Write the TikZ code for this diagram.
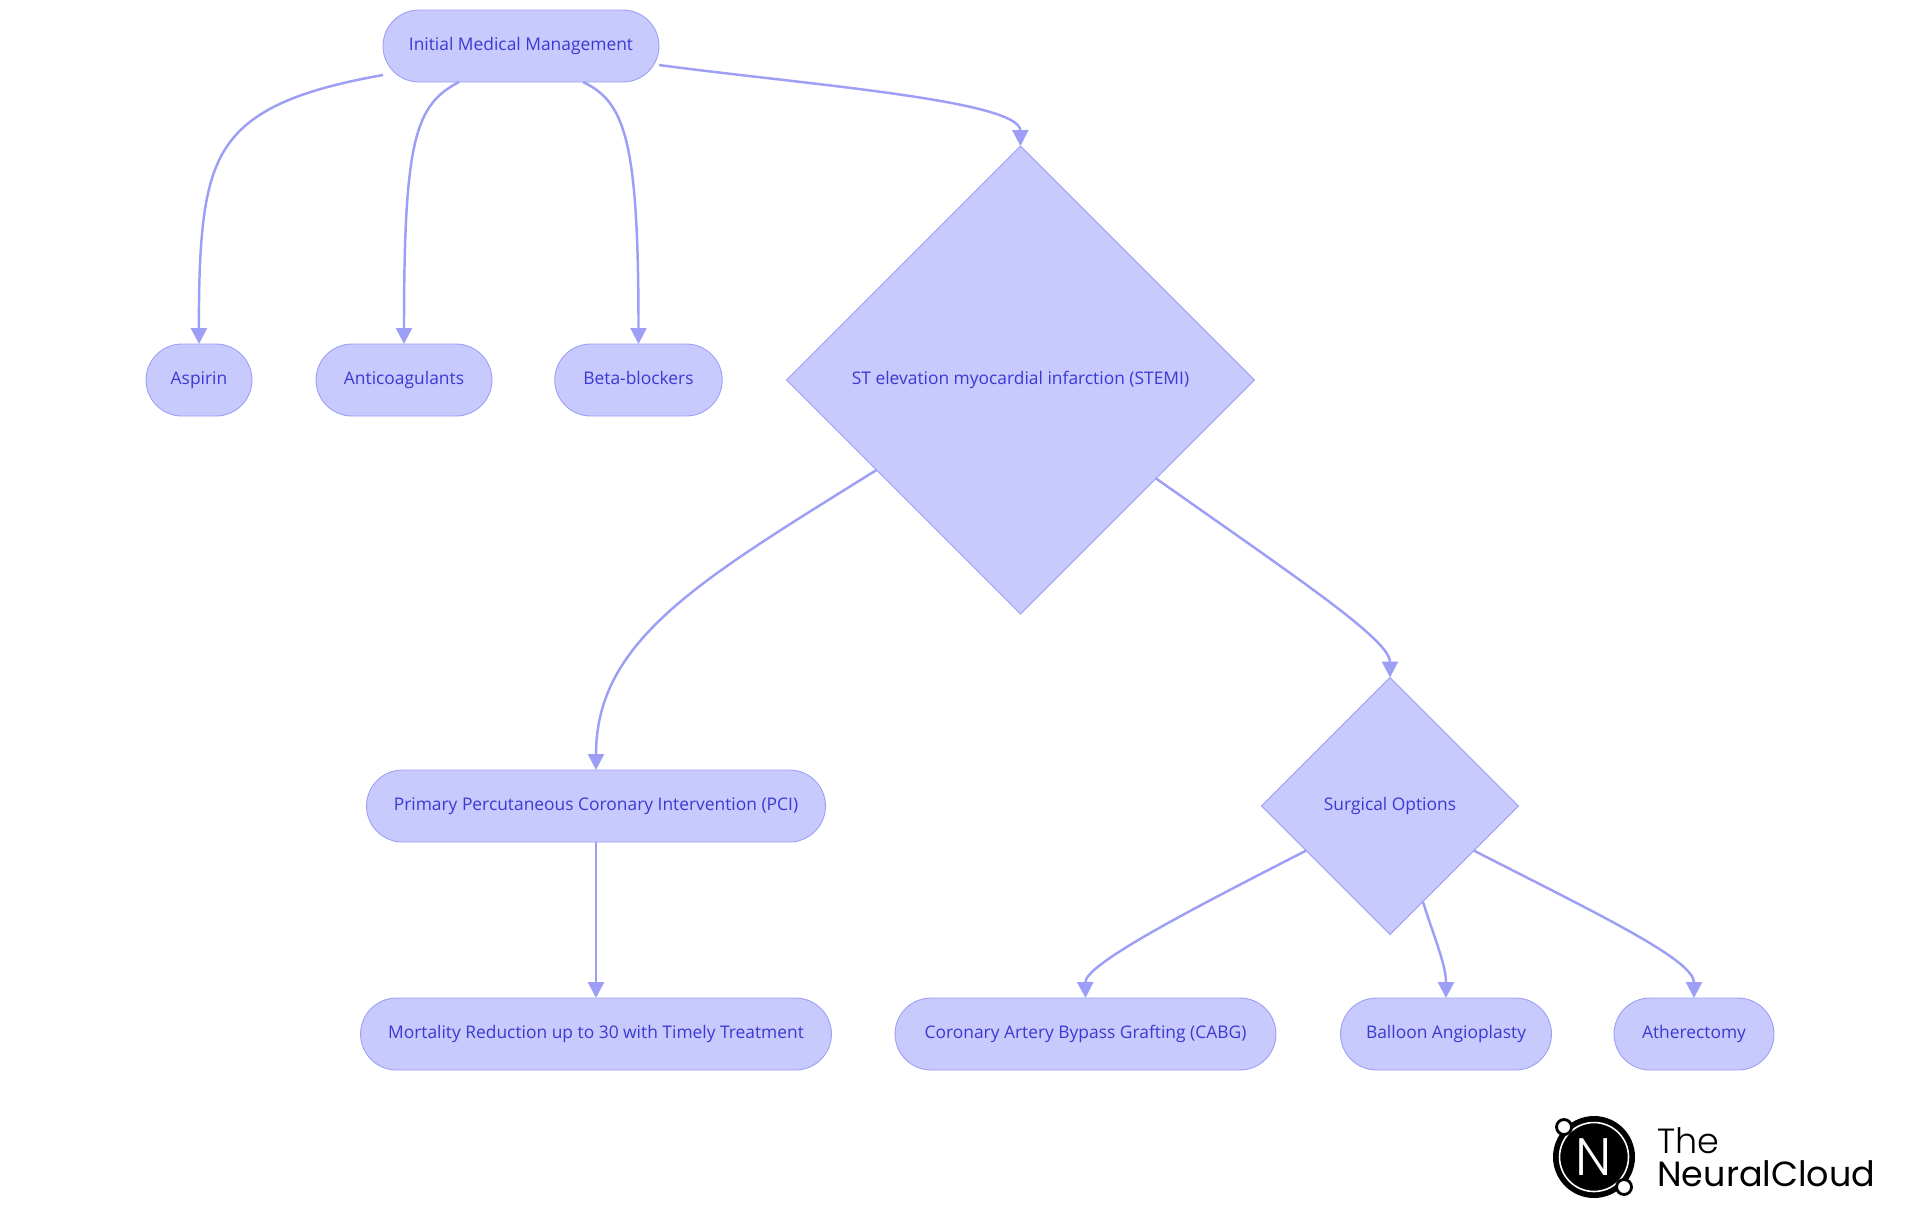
\documentclass[tikz,border=0pt]{standalone}
\usepackage{fontspec}
\setmainfont{Open Sans}
\newfontfamily\logofont{Poppins Light}
\newfontfamily\logobold{Poppins}
\usepackage{xcolor}
\usetikzlibrary{shapes.geometric}
\usetikzlibrary{arrows.meta}
\usetikzlibrary{calc}
\definecolor{boxfill}{HTML}{C8C9FD}
\definecolor{boxline}{HTML}{9C9FF5}
\definecolor{boxtext}{HTML}{3A3AD2}

\begin{document}
\begin{tikzpicture}[
  x=0.02cm, y=-0.02cm,
  font=\fontsize{9.9pt}{12pt}\selectfont,
  pill/.style={draw=boxline, fill=boxfill, text=boxtext, line width=0.5pt, rounded corners=0.72cm, minimum height=1.44cm, inner sep=0pt, outer sep=0pt, text height=7.5pt, text depth=2pt},
  choice/.style={draw=boxline, fill=boxfill, text=boxtext, line width=0.5pt, diamond, aspect=1, inner sep=0pt, outer sep=0pt, text height=7.5pt, text depth=2pt},
  link/.style={draw=boxline, line width=1.4pt, -{Triangle[length=0.32cm,width=0.32cm]}}
]
\useasboundingbox (0,0) rectangle (1920,1215);

% Top node
\node[pill, minimum width=5.52cm] (init) at (521,46) {Initial Medical Management};

% First row
\node[pill, minimum width=2.12cm] (asp) at (199,380) {Aspirin};
\node[pill, minimum width=3.52cm] (anti) at (404,380) {Anticoagulants};
\node[pill, minimum width=3.35cm] (beta) at (638.5,380) {Beta-blockers};
\node[choice, minimum width=9.36cm, minimum height=9.36cm] (stemi) at (1020.5,380) {ST elevation myocardial infarction (STEMI)};

% Second row
\node[pill, minimum width=9.18cm] (pci) at (596,806) {Primary Percutaneous Coronary Intervention (PCI)};
\node[choice, minimum width=5.14cm, minimum height=5.14cm] (surg) at (1390,806) {Surgical Options};

% Third row
\node[pill, minimum width=9.42cm] (mort) at (596,1034) {Mortality Reduction up to 30 with Timely Treatment};
\node[pill, minimum width=7.62cm] (cabg) at (1085.5,1034) {Coronary Artery Bypass Grafting (CABG)};
\node[pill, minimum width=4.22cm] (ball) at (1446,1034) {Balloon Angioplasty};
\node[pill, minimum width=3.2cm] (athe) at (1694,1034) {Atherectomy};

% Links from the top node
\draw[link] ($(init.south west)+(0,-7)$) .. controls (310,88) and (262,105) .. (235,136)
  .. controls (207,168) and (198.5,215) .. (asp.north);
\draw[link] ($(init.south)+(-62,0)$) .. controls (415,105) and (404,140) .. (anti.north);
\draw[link] ($(init.south)+(62,0)$) .. controls (625,102) and (638.5,140) .. (beta.north);
\draw[link] ($(init.east)+(0,19)$) .. controls (800,84) and (1020,100) .. (stemi.north);

% Links from the diamonds
\draw[link] (stemi.212) .. controls (700,580) and (596,640) .. (pci.north);
\draw[link] (stemi.-36) .. controls (1300,580) and (1390,640) .. (surg.north);
\draw[link] (pci.south) -- (mort.north);
\draw[link] (surg.208.5) .. controls (1180,915) and (1085,965) .. (cabg.north);
\draw[link] (surg.-71) .. controls (1435,940) and (1446,965) .. (ball.north);
\draw[link] (surg.-28) .. controls (1600,915) and (1694,960) .. (athe.north);

% Logo
\node[circle, fill=black, minimum size=1.64cm, inner sep=0pt] (ring) at (1594,1157) {};
\node[circle, draw=white, line width=0.9pt, minimum size=1.38cm, inner sep=0pt] (disc) at (ring) {};
\node[text=white, font=\logofont\fontsize{30pt}{30pt}\selectfont, inner sep=0pt] (letter) at (ring) {N};
\node[circle, draw=black, fill=white, line width=1.6pt, minimum size=0.3cm, inner sep=0pt] (dota) at (1564,1127) {};
\node[circle, draw=black, fill=white, line width=1.6pt, minimum size=0.3cm, inner sep=0pt] (dotb) at (1624,1187) {};
\node[anchor=west, align=left, inner sep=0pt, text=black, font=\fontsize{19.9pt}{18.5pt}\selectfont] (word) at (1657,1157) {{\logofont The}\\{\logobold NeuralCloud}};
\end{tikzpicture}
\end{document}
